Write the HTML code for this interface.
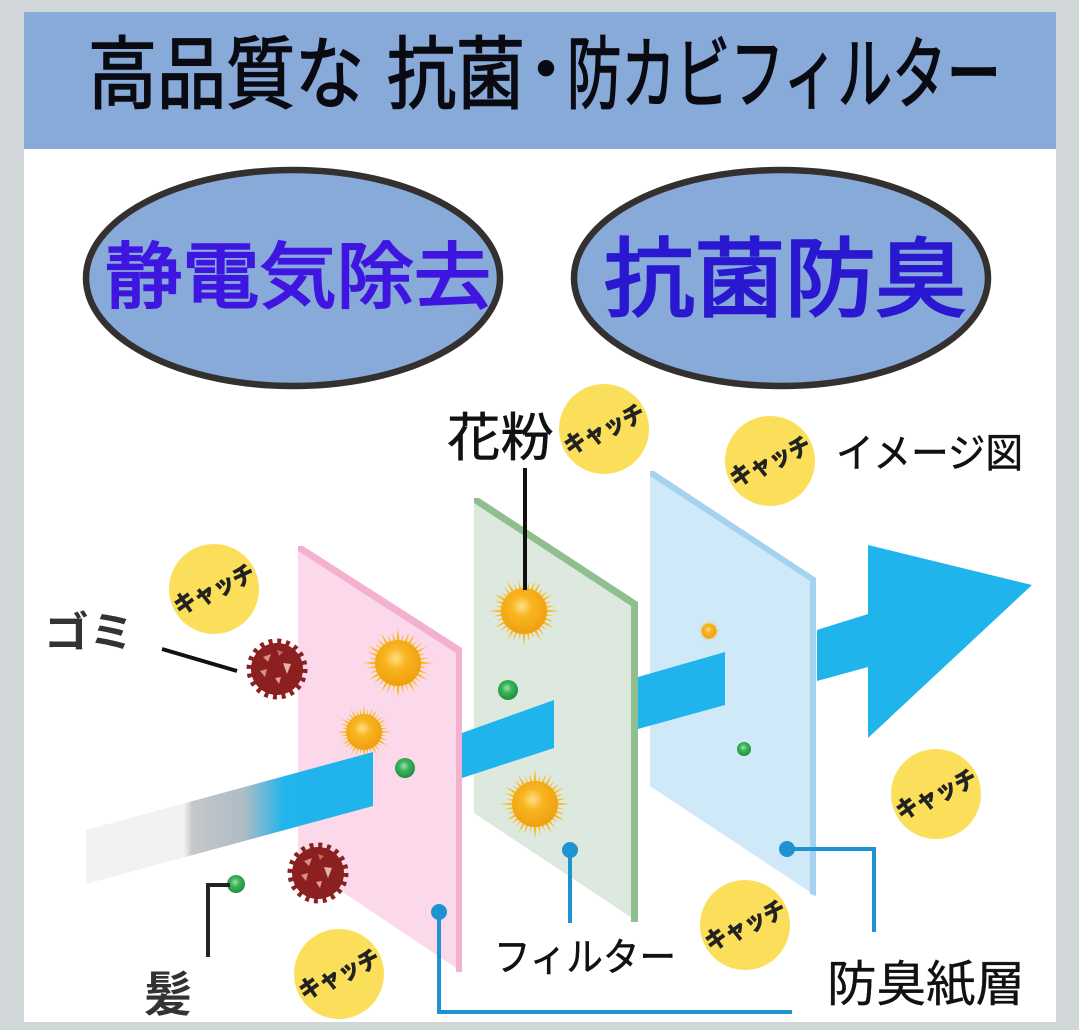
<!DOCTYPE html>
<html lang="ja"><head><meta charset="utf-8"><style>
html,body{margin:0;padding:0;background:#d1d7d9}
svg{display:block}
text{font-family:"Liberation Sans","Noto Sans CJK JP",sans-serif}
</style></head><body>
<svg xmlns="http://www.w3.org/2000/svg" width="1079" height="1030" viewBox="0 0 1079 1030">
<defs>
<linearGradient id="fade" gradientUnits="userSpaceOnUse" x1="86" y1="0" x2="373" y2="0">
<stop offset="0" stop-color="#f2f2f2"/><stop offset=".34" stop-color="#f3f2f2"/><stop offset=".37" stop-color="#c4c8ca"/><stop offset=".55" stop-color="#aebcc4"/><stop offset=".69" stop-color="#22b4ec"/><stop offset="1" stop-color="#1fb4ec"/>
</linearGradient>
<radialGradient id="pol" cx=".45" cy=".4" r=".65"><stop offset="0" stop-color="#fde08a"/><stop offset=".35" stop-color="#f9b521"/><stop offset="1" stop-color="#ee9c0c"/></radialGradient>
<radialGradient id="grn" cx=".45" cy=".4" r=".6"><stop offset="0" stop-color="#a8e0b0"/><stop offset=".4" stop-color="#3cb55a"/><stop offset="1" stop-color="#1f8f43"/></radialGradient>
<g id="spike"><polygon points="-35,0 0,-4 35,0 0,4" fill="#f8bb22"/></g>
<g id="pollen">
<use href="#spike"/><use href="#spike" transform="rotate(10) scale(.84)"/><use href="#spike" transform="rotate(20) scale(.92)"/><use href="#spike" transform="rotate(30) scale(.98)"/><use href="#spike" transform="rotate(40) scale(.84)"/><use href="#spike" transform="rotate(50) scale(.9)"/><use href="#spike" transform="rotate(60) scale(.97)"/><use href="#spike" transform="rotate(70) scale(.85)"/><use href="#spike" transform="rotate(80) scale(.9)"/><use href="#spike" transform="rotate(90)"/><use href="#spike" transform="rotate(100) scale(.85)"/><use href="#spike" transform="rotate(110) scale(.92)"/><use href="#spike" transform="rotate(120) scale(.96)"/><use href="#spike" transform="rotate(130) scale(.85)"/><use href="#spike" transform="rotate(140) scale(.9)"/><use href="#spike" transform="rotate(150) scale(.95)"/><use href="#spike" transform="rotate(160) scale(.85)"/><use href="#spike" transform="rotate(170) scale(.9)"/>
<circle r="23" fill="url(#pol)"/>
</g>
<g id="virus">
<circle r="26" fill="#8c2020"/>
<circle r="28" fill="none" stroke="#8c2020" stroke-width="5" stroke-dasharray="4 4.8"/>
<polygon points="-14,-12 -6,-15 -9,-7" fill="#d98f80"/><polygon points="6,-6 14,-5 10,5" fill="#e8b3a3"/><polygon points="-17,2 -10,0 -12,8" fill="#d98f80"/><polygon points="-2,9 4,8 2,15" fill="#e0a090"/><polygon points="0,-19 6,-17 2,-13" fill="#c96a60"/>
</g>
<g id="catch">
<circle r="45" fill="#fbdf5a"/>
<text transform="rotate(-25)" x="0" y="9" text-anchor="middle" font-size="24" font-weight="700" fill="#222" stroke="#222" stroke-width=".9" textLength="86" lengthAdjust="spacingAndGlyphs">キャッチ</text>
</g>
</defs>

<rect x="0" y="0" width="1079" height="1030" fill="#d1d7d9"/>
<rect x="24" y="12" width="1032" height="1010" fill="#fff"/>
<rect x="24" y="12" width="1032" height="137" fill="#88aad9"/>

<g font-size="79" fill="#0a0a12" stroke="#0a0a12" stroke-width="1.6">
<text x="88" y="102" textLength="276" lengthAdjust="spacingAndGlyphs">高品質な</text>
<text x="387" y="102" textLength="138" lengthAdjust="spacingAndGlyphs">抗菌</text>
<text x="512" y="94" font-size="68" stroke-width="2">・</text>
<text x="567" y="102" textLength="434" lengthAdjust="spacingAndGlyphs">防カビフィルター</text>
</g>

<ellipse cx="293" cy="278" rx="207" ry="108" fill="#88aad9" stroke="#33302f" stroke-width="6.5"/>
<ellipse cx="781" cy="278" rx="207" ry="108" fill="#88aad9" stroke="#33302f" stroke-width="6.5"/>
<text x="105" y="302" font-size="72" fill="#3f15e0" stroke="#3f15e0" stroke-width="2.2" textLength="386" lengthAdjust="spacingAndGlyphs">静電気除去</text>
<text x="604" y="309" font-size="86" fill="#2a18d0" stroke="#2a18d0" stroke-width="2.6" textLength="362" lengthAdjust="spacingAndGlyphs">抗菌防臭</text>

<!-- arrow end -->
<polygon points="817,630 868,614 868,545 1032,585 868,738 868,667 817,681" fill="#1fb4ec"/>

<!-- blue panel -->
<polygon points="650,471 816,580 816,896 650,786" fill="#d0e9f8"/>
<polygon points="650,471 654,471 816,578 816,896 810,894 810,581 650,476" fill="#a5d3ef"/>
<polygon points="638,677 725,652 725,705 638,729" fill="#1fb4ec"/>
<use href="#pollen" transform="translate(709,631) scale(.32)"/>
<circle cx="744" cy="749" r="7" fill="url(#grn)"/>

<!-- green panel -->
<polygon points="474,498 638,605 638,922 474,813" fill="#dde8df"/>
<polygon points="474,498 479,498 638,602 638,922 631,922 631,606 474,503" fill="#8fbf8f"/>
<polygon points="462,733 554,700 554,748 462,778" fill="#1fb4ec"/>
<use href="#pollen" transform="translate(524,611)"/>
<use href="#pollen" transform="translate(535,804)"/>
<circle cx="508" cy="690" r="10" fill="url(#grn)"/>

<!-- pink panel -->
<polygon points="298,546 462,650 462,972 298,862" fill="#fbd9ea"/>
<polygon points="298,546 303,546 462,648 462,972 456,972 456,653 298,551" fill="#f3b1cf"/>
<use href="#pollen" transform="translate(398,663)"/>
<use href="#pollen" transform="translate(364,732) scale(.78)"/>
<polygon points="86,830 373,752 373,806 86,884" fill="url(#fade)"/>
<circle cx="405" cy="768" r="10" fill="url(#grn)"/>
<use href="#virus" transform="translate(277,669)"/>
<use href="#virus" transform="translate(318,873)"/>
<circle cx="236" cy="884" r="9" fill="url(#grn)"/>

<!-- connectors -->
<path d="M439,912V1012H792" fill="none" stroke="#1f93d2" stroke-width="4"/>
<circle cx="439" cy="912" r="8" fill="#1f93d2"/>
<path d="M570,850V923" fill="none" stroke="#1f93d2" stroke-width="4"/>
<circle cx="570" cy="850" r="8" fill="#1f93d2"/>
<path d="M787,849H874V932" fill="none" stroke="#1f93d2" stroke-width="4"/>
<circle cx="787" cy="849" r="8" fill="#1f93d2"/>
<path d="M525,468V590" fill="none" stroke="#111" stroke-width="4"/>
<path d="M162,649L237,671" fill="none" stroke="#111" stroke-width="4"/>
<path d="M208,957V885H230" fill="none" stroke="#222" stroke-width="4"/>

<!-- catch badges -->
<use href="#catch" transform="translate(214,589)"/>
<use href="#catch" transform="translate(604,429)"/>
<use href="#catch" transform="translate(770,461)"/>
<use href="#catch" transform="translate(936,794)"/>
<use href="#catch" transform="translate(745,925)"/>
<use href="#catch" transform="translate(339,974)"/>

<!-- labels -->
<text x="447" y="456" font-size="52" fill="#111" stroke="#111" stroke-width=".6" textLength="107" lengthAdjust="spacingAndGlyphs">花粉</text>
<text x="836" y="467" font-size="40" fill="#111" stroke="#111" stroke-width=".5" textLength="187" lengthAdjust="spacingAndGlyphs">イメージ図</text>
<text x="44" y="647" font-size="42" font-weight="700" fill="#333" textLength="90" lengthAdjust="spacingAndGlyphs">ゴミ</text>
<text x="144" y="1011" font-size="48" font-weight="700" fill="#333">髪</text>
<text x="494" y="971" font-size="39" fill="#111" stroke="#111" stroke-width=".5" textLength="182" lengthAdjust="spacingAndGlyphs">フィルター</text>
<text x="827" y="1001" font-size="49" fill="#111" stroke="#111" stroke-width=".3" textLength="198" lengthAdjust="spacingAndGlyphs">防臭紙層</text>
</svg>
</body></html>
